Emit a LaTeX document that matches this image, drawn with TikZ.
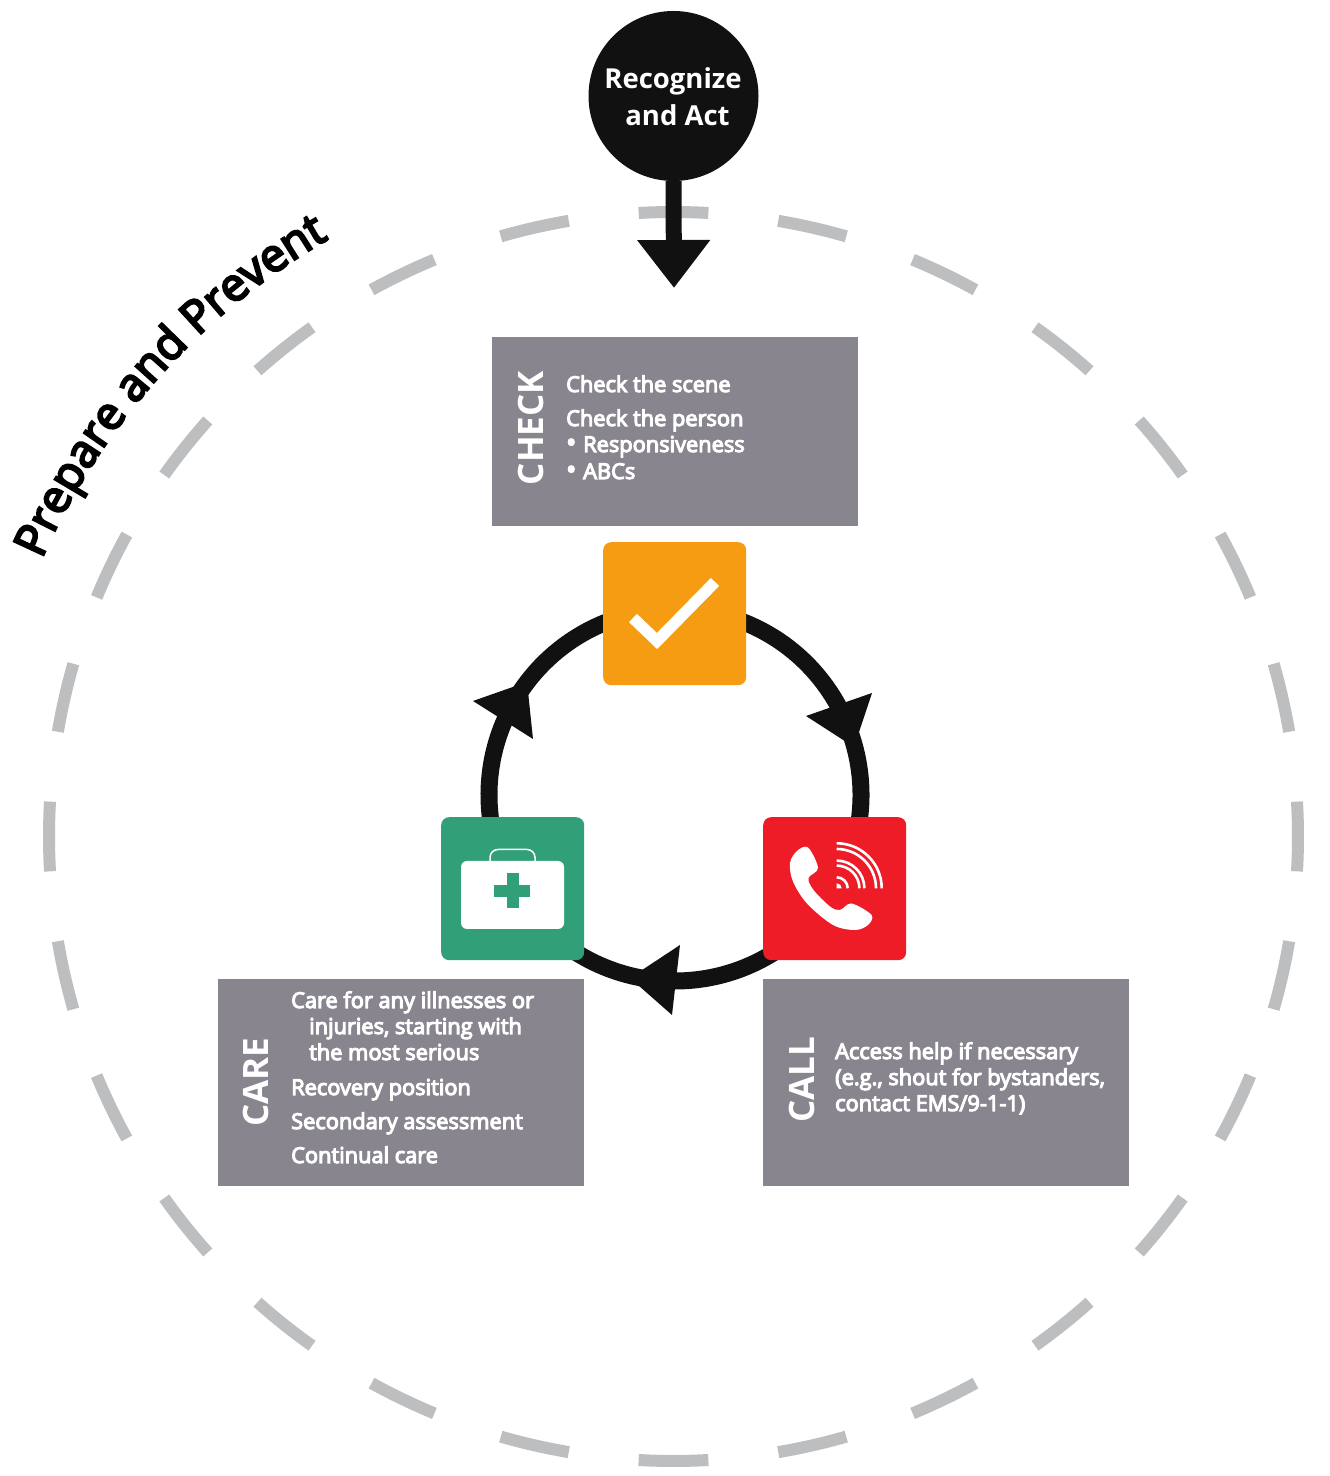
\documentclass[tikz,border=0pt]{standalone}
\usepackage{fontspec}
\usetikzlibrary{decorations.text,arrows.meta}
\setmainfont{Open Sans}
\newfontfamily\semi[FakeBold=5]{Open Sans}
\definecolor{boxgray}{HTML}{88858E}
\definecolor{dashgray}{HTML}{BCBEC0}
\definecolor{inkblack}{HTML}{111111}
\definecolor{chkorange}{HTML}{F59C12}
\definecolor{callred}{HTML}{ED1C27}
\definecolor{caregreen}{HTML}{31A078}
\tikzset{
  x=1pt,y=1pt,
  panel/.style={fill=boxgray,draw=none,inner sep=0pt,minimum width=366pt,anchor=north west},
  iconbox/.style={draw=none,inner sep=0pt,minimum size=143pt,rounded corners=8pt,anchor=north west},
  bodytxt/.style={text=white,inner sep=0pt,anchor=base west,font=\semi\fontsize{21.8}{24}\selectfont},
  sidetxt/.style={text=white,inner sep=0pt,anchor=base,rotate=90,font=\bfseries\fontsize{35}{38}\selectfont},
  headtxt/.style={text=white,inner sep=0pt,anchor=base,font=\bfseries\fontsize{27.5}{32}\selectfont},
  ringarc/.style={draw=inkblack,line width=17pt},
  dashseg/.style={draw=dashgray,line width=12pt},
  wave/.style={draw=white,line width=2.6pt},
  px/.style={shift={(0,1476)},y=-1pt}
}
\begin{document}
\begin{tikzpicture}
\useasboundingbox (0,0) rectangle (1330,1476);
\fill[white] (0,0) rectangle (1330,1476);
% outer dashed circle
\coordinate (oc) at (673.5,639.5);
\foreach \i in {0,...,27}{
  \pgfmathsetmacro{\a}{90+\i*360/28}
  \draw[dashseg] (oc) ++({\a-3.2}:624.5pt) arc[start angle=\a-3.2,end angle=\a+3.2,radius=624.5pt];
}
% prepare and prevent
\path[decorate,decoration={text along path,text align=left,
  text={|\semi\fontsize{45.5}{50}\selectfont|Prepare and Prevent}}]
  (oc) ++(156.3:690pt) arc[start angle=156.3,end angle=116,radius=690pt];
% ring
\coordinate (rc) at (675,681);
\draw[ringarc] (rc) ++(70:186pt) coordinate (ra) arc[start angle=70,end angle=-10,radius=186pt];
\draw[ringarc] (rc) ++(-58:186pt) coordinate (rb) arc[start angle=-58,end angle=-122,radius=186pt];
\draw[ringarc] (rc) ++(187:186pt) coordinate (rd) arc[start angle=187,end angle=110,radius=186pt];
\begin{scope}[px]
  \fill[inkblack] (872,693)--(806,716)--(854,747)--cycle;
  \fill[inkblack] (680,945)--(672,1015)--(630,978)--cycle;
  \fill[inkblack] (473,701)--(533,739)--(527,682)--cycle;
  % panels
  \node[panel,minimum height=189pt] (checkpanel) at (492,337) {};
  \node[panel,minimum height=207pt] (carepanel) at (218,979) {};
  \node[panel,minimum height=207pt] (callpanel) at (763,979) {};
  % recognize
  \coordinate (arrowtip) at (674,288);
  \node[circle,fill=inkblack,minimum size=170pt,inner sep=0pt] (recognize) at (673.5,96) {};
  \draw[inkblack,line width=16pt,-{Triangle[width=70pt,length=48pt]}] (recognize.south) -- (arrowtip);
  \node[headtxt] (rec1) at (673,89) {Recognize};
  \node[headtxt] (rec2) at (677.5,126) {and Act};
  % icon boxes
  \node[iconbox,fill=chkorange] (checkbox) at (603,542) {};
  \node[iconbox,fill=callred] (callbox) at (763,817) {};
  \node[iconbox,fill=caregreen] (carebox) at (441,817) {};
  % check mark
  \draw[white,line width=11.5pt,miter limit=10] (633,618)--(657,641)--(715,582);
  % phone
  \fill[white] plot[smooth cycle,tension=.55] coordinates{
    (790,863) (797,851) (808,847.5) (818,868) (808.5,878) (813.5,890) (830,906.5)
    (840,910) (851.5,903.5) (871.5,915) (868,925) (855,930) (833,925) (807,903.5) (793,881.5)};
  % kit
  \fill[white,rounded corners=6pt] (461,861) rectangle (564,929);
  \draw[white,line width=1.5pt,rounded corners=8pt] (490,862)--(490,849.5)--(535,849.5)--(535,862);
  \fill[caregreen] (506.7,872.7) rectangle (519,908.3);
  \fill[caregreen] (494.3,884.7) rectangle (530,896.7);
  % check text
  \node[sidetxt] (l1) at (543,428) {CHECK};
  \node[bodytxt] (c1) at (566,392) {Check the scene};
  \node[bodytxt] (c2) at (566,426) {Check the person};
  \node[bodytxt] (c3) at (566,452) {\fontsize{27}{24}\selectfont•};
  \node[bodytxt] (c3b) at (583,452) {Responsiveness};
  \node[bodytxt] (c4) at (566,479) {\fontsize{27}{24}\selectfont•};
  \node[bodytxt] (c4b) at (583,479) {ABCs};
  % care text
  \node[sidetxt] (l2) at (268,1082) {CARE};
  \node[bodytxt] (k1) at (291,1008) {Care for any illnesses or};
  \node[bodytxt] (k2) at (309,1034) {injuries, starting with};
  \node[bodytxt] (k3) at (309,1060) {the most serious};
  \node[bodytxt] (k4) at (291,1095) {Recovery position};
  \node[bodytxt] (k5) at (291,1129) {Secondary assessment};
  \node[bodytxt] (k6) at (291,1163) {Continual care};
  % call text
  \node[sidetxt] (l3) at (814,1080) {CALL};
  \node[bodytxt] (a1) at (835,1059) {Access help if necessary};
  \node[bodytxt] (a2) at (835,1085) {(e.g., shout for bystanders,};
  \node[bodytxt] (a3) at (835,1111) {contact EMS/9-1-1)};
\end{scope}
% signal waves
\coordinate (wc) at (836.7,587.7);
\foreach \r in {45,39.3,27.7,22.7,11}{
  \draw[wave] (wc) ++(90:\r pt) arc[start angle=90,end angle=0,radius=\r pt];
}
\fill[white] (wc) -- ++(90:5pt) arc[start angle=90,end angle=0,radius=5pt] -- cycle;
\end{tikzpicture}
\end{document}
